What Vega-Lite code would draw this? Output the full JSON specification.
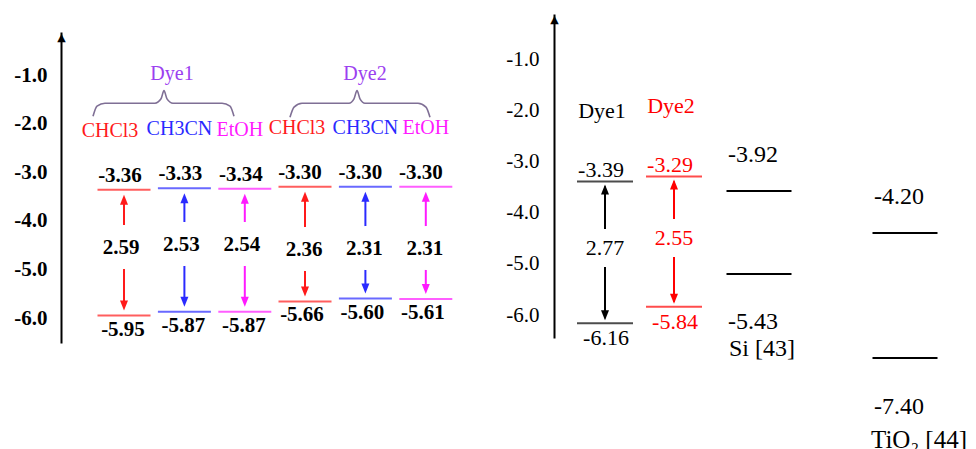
{
"$schema":"https://vega.github.io/schema/vega-lite/v6.json",
"width":976,"height":449,"padding":0,"autosize":{"type":"none"},"background":"#ffffff",
"config":{"view":{"stroke":null},"font":"Liberation Serif","locale":{"number":{"decimal":".","thousands":",","grouping":[3],"currency":["$",""],"minus":"-"}}},
"datasets":{
 "levels":[
  {"dye":"Dye1","solvent":"CHCl3","orbital":"LUMO","energy":-3.36,"gap":2.59},
  {"dye":"Dye1","solvent":"CHCl3","orbital":"HOMO","energy":-5.95,"gap":2.59},
  {"dye":"Dye1","solvent":"CH3CN","orbital":"LUMO","energy":-3.33,"gap":2.53},
  {"dye":"Dye1","solvent":"CH3CN","orbital":"HOMO","energy":-5.87,"gap":2.53},
  {"dye":"Dye1","solvent":"EtOH","orbital":"LUMO","energy":-3.34,"gap":2.54},
  {"dye":"Dye1","solvent":"EtOH","orbital":"HOMO","energy":-5.87,"gap":2.54},
  {"dye":"Dye2","solvent":"CHCl3","orbital":"LUMO","energy":-3.30,"gap":2.36},
  {"dye":"Dye2","solvent":"CHCl3","orbital":"HOMO","energy":-5.66,"gap":2.36},
  {"dye":"Dye2","solvent":"CH3CN","orbital":"LUMO","energy":-3.30,"gap":2.31},
  {"dye":"Dye2","solvent":"CH3CN","orbital":"HOMO","energy":-5.60,"gap":2.31},
  {"dye":"Dye2","solvent":"EtOH","orbital":"LUMO","energy":-3.30,"gap":2.31},
  {"dye":"Dye2","solvent":"EtOH","orbital":"HOMO","energy":-5.61,"gap":2.31}
 ],
 "dyes":[
  {"dye":"Dye1","orbital":"LUMO","energy":-3.39,"gap":2.77},
  {"dye":"Dye1","orbital":"HOMO","energy":-6.16,"gap":2.77},
  {"dye":"Dye2","orbital":"LUMO","energy":-3.29,"gap":2.55},
  {"dye":"Dye2","orbital":"HOMO","energy":-5.84,"gap":2.55}
 ],
 "materials":[
  {"material":"Si","band":"CB","energy":-3.92,"name":"Si [43]"},
  {"material":"Si","band":"VB","energy":-5.43,"name":"Si [43]"},
  {"material":"TiO2","band":"CB","energy":-4.20,"name":"TiO₂ [44]"},
  {"material":"TiO2","band":"VB","energy":-7.40,"name":"TiO₂ [44]"}
 ],
 "braces":[
  {"dye":"Dye1","pos":-0.513,"e":-1.85,"part":"end"},
  {"dye":"Dye1","pos":-0.447,"e":-1.64,"part":"curl"},
  {"dye":"Dye1","pos":-0.315,"e":-1.58,"part":"bar"},
  {"dye":"Dye1","pos":0.513,"e":-1.58,"part":"bar"},
  {"dye":"Dye1","pos":0.613,"e":-1.49,"part":"rise"},
  {"dye":"Dye1","pos":0.662,"e":-1.32,"part":"cusp"},
  {"dye":"Dye1","pos":0.712,"e":-1.49,"part":"rise"},
  {"dye":"Dye1","pos":0.811,"e":-1.58,"part":"bar"},
  {"dye":"Dye1","pos":1.623,"e":-1.58,"part":"bar"},
  {"dye":"Dye1","pos":1.755,"e":-1.64,"part":"curl"},
  {"dye":"Dye1","pos":1.821,"e":-1.85,"part":"end"},
  {"dye":"Dye2","pos":2.748,"e":-1.87,"part":"end"},
  {"dye":"Dye2","pos":2.815,"e":-1.66,"part":"curl"},
  {"dye":"Dye2","pos":2.947,"e":-1.58,"part":"bar"},
  {"dye":"Dye2","pos":3.725,"e":-1.58,"part":"bar"},
  {"dye":"Dye2","pos":3.808,"e":-1.49,"part":"rise"},
  {"dye":"Dye2","pos":3.858,"e":-1.32,"part":"cusp"},
  {"dye":"Dye2","pos":3.907,"e":-1.49,"part":"rise"},
  {"dye":"Dye2","pos":3.990,"e":-1.58,"part":"bar"},
  {"dye":"Dye2","pos":4.868,"e":-1.58,"part":"bar"},
  {"dye":"Dye2","pos":5.0,"e":-1.66,"part":"curl"},
  {"dye":"Dye2","pos":5.066,"e":-1.87,"part":"end"}
 ]
},
"layer":[
 {
  "data":{"name":"levels"},
  "transform":[{"filter":"datum.dye === 'Dye1'"}],
  "encoding":{
   "x":{"field":"solvent","type":"nominal","axis":null,"scale":{"type":"point","padding":0,"domain":["CHCl3","CH3CN","EtOH"],"range":[124,244.8]}},
   "y":{"field":"energy","type":"quantitative","scale":{"domain":[-6.514,-0.115],"range":[343,32],"nice":false,"zero":false},
        "axis":{"values":[-1,-2,-3,-4,-5,-6],"format":".1f","orient":"left","offset":-61,"ticks":false,"grid":false,"domain":true,"domainColor":"#000000","domainWidth":2,"labelFontSize":21,"labelFontWeight":"bold","labelColor":"#000000","labelPadding":14,"title":"▲","titleAngle":0,"titleX":0,"titleY":40,"titleAlign":"center","titleBaseline":"alphabetic","titleFont":"DejaVu Sans","titleFontSize":11,"titleFontWeight":"normal","titleColor":"#000000"}},
   "color":{"field":"solvent","type":"nominal","legend":null,"scale":{"domain":["CHCl3","CH3CN","EtOH"],"range":["#ff1a1a","#2a2aff","#ff1aff"]}}
  },
  "layer":[
   {"mark":{"type":"tick","orient":"horizontal","size":53,"thickness":2}},
   {"mark":{"type":"rule","strokeWidth":2,"yOffset":9,"y2Offset":-9},
    "encoding":{"y":{"aggregate":"max","field":"energy","type":"quantitative"},"y2":{"aggregate":"min","field":"energy"}}},
   {"transform":[{"filter":"datum.orbital === 'LUMO'"}],"mark":{"type":"point","shape":"M0,-1L0.8,1L-0.8,1Z","size":100,"filled":true,"opacity":1,"yOffset":10}},
   {"transform":[{"filter":"datum.orbital === 'HOMO'"}],"mark":{"type":"point","shape":"M0,1L0.8,-1L-0.8,-1Z","size":100,"filled":true,"opacity":1,"yOffset":-10}},
   {"mark":{"type":"text","fontSize":21,"fontWeight":"bold","baseline":"middle","stroke":"#ffffff","strokeWidth":30,"strokeJoin":"round","dx":-3,"dy":-5},
    "encoding":{"y":{"aggregate":"mean","field":"energy","type":"quantitative"},"text":{"field":"gap","type":"quantitative","format":".2f"},"color":{"value":"#ffffff"}}},
   {"mark":{"type":"text","fontSize":21,"fontWeight":"bold","baseline":"middle","dx":-3,"dy":-5},
    "encoding":{"y":{"aggregate":"mean","field":"energy","type":"quantitative"},"text":{"field":"gap","type":"quantitative","format":".2f"},"color":{"value":"#000000"}}},
   {"transform":[{"filter":"datum.orbital === 'LUMO'"}],"mark":{"type":"text","fontSize":21,"fontWeight":"bold","baseline":"middle","dy":-14,"dx":-4},
    "encoding":{"text":{"field":"energy","type":"quantitative","format":".2f"},"color":{"value":"#000000"}}},
   {"transform":[{"filter":"datum.orbital === 'HOMO'"}],"mark":{"type":"text","fontSize":21,"fontWeight":"bold","baseline":"middle","dy":14,"dx":-1},
    "encoding":{"text":{"field":"energy","type":"quantitative","format":".2f"},"color":{"value":"#000000"}}},
   {"transform":[{"filter":"datum.orbital === 'LUMO' && datum.solvent === 'CHCl3'"}],"mark":{"type":"text","fontSize":20,"baseline":"middle","dy":-59,"dx":-14},
    "encoding":{"text":{"field":"solvent","type":"nominal"}}},
   {"transform":[{"filter":"datum.orbital === 'LUMO' && datum.solvent !== 'CHCl3'"}],"mark":{"type":"text","fontSize":20,"baseline":"middle","dy":-59,"dx":-5},
    "encoding":{"text":{"field":"solvent","type":"nominal"}}}
  ]
 },
 {
  "data":{"name":"levels"},
  "transform":[{"filter":"datum.dye === 'Dye2'"}],
  "encoding":{
   "x":{"field":"solvent","type":"nominal","axis":null,"scale":{"type":"point","padding":0,"domain":["CHCl3","CH3CN","EtOH"],"range":[305,425.8]}},
   "y":{"field":"energy","type":"quantitative","axis":null,"scale":{"domain":[-6.514,-0.115],"range":[343,32],"nice":false,"zero":false}},
   "color":{"field":"solvent","type":"nominal","legend":null,"scale":{"domain":["CHCl3","CH3CN","EtOH"],"range":["#ff1a1a","#2a2aff","#ff1aff"]}}
  },
  "layer":[
   {"mark":{"type":"tick","orient":"horizontal","size":53,"thickness":2}},
   {"mark":{"type":"rule","strokeWidth":2,"yOffset":9,"y2Offset":-9},
    "encoding":{"y":{"aggregate":"max","field":"energy","type":"quantitative","axis":null},"y2":{"aggregate":"min","field":"energy"}}},
   {"transform":[{"filter":"datum.orbital === 'LUMO'"}],"mark":{"type":"point","shape":"M0,-1L0.8,1L-0.8,1Z","size":100,"filled":true,"opacity":1,"yOffset":10}},
   {"transform":[{"filter":"datum.orbital === 'HOMO'"}],"mark":{"type":"point","shape":"M0,1L0.8,-1L-0.8,-1Z","size":100,"filled":true,"opacity":1,"yOffset":-10}},
   {"mark":{"type":"text","fontSize":21,"fontWeight":"bold","baseline":"middle","stroke":"#ffffff","strokeWidth":30,"strokeJoin":"round","dx":-1,"dy":6},
    "encoding":{"y":{"aggregate":"mean","field":"energy","type":"quantitative","axis":null},"text":{"field":"gap","type":"quantitative","format":".2f"},"color":{"value":"#ffffff"}}},
   {"mark":{"type":"text","fontSize":21,"fontWeight":"bold","baseline":"middle","dx":-1,"dy":6},
    "encoding":{"y":{"aggregate":"mean","field":"energy","type":"quantitative","axis":null},"text":{"field":"gap","type":"quantitative","format":".2f"},"color":{"value":"#000000"}}},
   {"transform":[{"filter":"datum.orbital === 'LUMO'"}],"mark":{"type":"text","fontSize":21,"fontWeight":"bold","baseline":"middle","dy":-14,"dx":-5},
    "encoding":{"text":{"field":"energy","type":"quantitative","format":".2f"},"color":{"value":"#000000"}}},
   {"transform":[{"filter":"datum.orbital === 'HOMO'"}],"mark":{"type":"text","fontSize":21,"fontWeight":"bold","baseline":"middle","dy":14,"dx":-3},
    "encoding":{"text":{"field":"energy","type":"quantitative","format":".2f"},"color":{"value":"#000000"}}},
   {"transform":[{"filter":"datum.orbital === 'LUMO' && datum.solvent === 'CHCl3'"}],"mark":{"type":"text","fontSize":20,"baseline":"middle","dy":-59,"dx":-8},
    "encoding":{"text":{"field":"solvent","type":"nominal"}}},
   {"transform":[{"filter":"datum.orbital === 'LUMO' && datum.solvent !== 'CHCl3'"}],"mark":{"type":"text","fontSize":20,"baseline":"middle","dy":-59,"dx":0},
    "encoding":{"text":{"field":"solvent","type":"nominal"}}}
  ]
 },
 {
  "data":{"name":"braces"},
  "encoding":{
   "x":{"field":"pos","type":"quantitative","axis":null,"scale":{"domain":[0,5],"range":[124,426],"nice":false,"zero":false}},
   "y":{"field":"e","type":"quantitative","axis":null,"scale":{"domain":[-6.514,-0.115],"range":[343,32],"nice":false,"zero":false}}
  },
  "layer":[
   {"mark":{"type":"line","interpolate":"monotone","color":"#7f6f95","strokeWidth":1.6},"encoding":{"detail":{"field":"dye","type":"nominal"}}},
   {"transform":[{"filter":"datum.part === 'cusp'"}],"mark":{"type":"text","fontSize":20,"baseline":"middle","color":"#9b40f0","dy":-17,"dx":8},"encoding":{"text":{"field":"dye","type":"nominal"}}}
  ]
 },
 {
  "data":{"name":"dyes"},
  "encoding":{
   "x":{"field":"dye","type":"nominal","axis":null,"scale":{"type":"point","padding":0,"domain":["Dye1","Dye2"],"range":[605,674]}},
   "y":{"field":"energy","type":"quantitative","scale":{"domain":[-6.45,-0.11],"range":[338,14],"nice":false,"zero":false},
        "axis":{"values":[-1,-2,-3,-4,-5,-6],"format":".1f","orient":"left","offset":-554,"ticks":false,"grid":false,"domain":true,"domainColor":"#000000","domainWidth":2,"labelFontSize":21,"labelFontWeight":"normal","labelColor":"#000000","labelPadding":15,"title":"▲","titleAngle":0,"titleX":0,"titleY":22,"titleAlign":"center","titleBaseline":"alphabetic","titleFont":"DejaVu Sans","titleFontSize":11,"titleFontWeight":"normal","titleColor":"#000000"}},
   "color":{"field":"dye","type":"nominal","legend":null,"scale":{"domain":["Dye1","Dye2"],"range":["#000000","#ff0000"]}}
  },
  "layer":[
   {"mark":{"type":"tick","orient":"horizontal","size":56,"thickness":2}},
   {"mark":{"type":"rule","strokeWidth":2,"yOffset":5,"y2Offset":-5},
    "encoding":{"y":{"aggregate":"max","field":"energy","type":"quantitative"},"y2":{"aggregate":"min","field":"energy"}}},
   {"transform":[{"filter":"datum.orbital === 'LUMO'"}],"mark":{"type":"point","shape":"M0,-1L0.8,1L-0.8,1Z","size":100,"filled":true,"opacity":1,"yOffset":8}},
   {"transform":[{"filter":"datum.orbital === 'HOMO'"}],"mark":{"type":"point","shape":"M0,1L0.8,-1L-0.8,-1Z","size":100,"filled":true,"opacity":1,"yOffset":-8}},
   {"mark":{"type":"text","fontSize":22,"baseline":"middle","stroke":"#ffffff","strokeWidth":24,"strokeJoin":"round","dy":-4},
    "encoding":{"y":{"aggregate":"mean","field":"energy","type":"quantitative"},"text":{"field":"gap","type":"quantitative","format":".2f"},"color":{"value":"#ffffff"}}},
   {"mark":{"type":"text","fontSize":22,"baseline":"middle","dy":-4},
    "encoding":{"y":{"aggregate":"mean","field":"energy","type":"quantitative"},"text":{"field":"gap","type":"quantitative","format":".2f"}}},
   {"transform":[{"filter":"datum.orbital === 'LUMO'"}],"mark":{"type":"text","fontSize":22,"baseline":"middle","dy":-12,"dx":-4},
    "encoding":{"text":{"field":"energy","type":"quantitative","format":".2f"}}},
   {"transform":[{"filter":"datum.orbital === 'HOMO'"}],"mark":{"type":"text","fontSize":22,"baseline":"middle","dy":15,"dx":1},
    "encoding":{"text":{"field":"energy","type":"quantitative","format":".2f"}}},
   {"transform":[{"filter":"datum.orbital === 'LUMO'"}],"mark":{"type":"text","fontSize":22,"baseline":"middle","dy":-71,"dx":-3},
    "encoding":{"text":{"field":"dye","type":"nominal"}}}
  ]
 },
 {
  "data":{"name":"materials"},
  "transform":[{"filter":"datum.material === 'Si'"}],
  "encoding":{
   "x":{"field":"material","type":"nominal","axis":null,"scale":{"type":"point","padding":0,"domain":["Si"],"range":[709,809]}},
   "y":{"field":"energy","type":"quantitative","axis":null,"scale":{"domain":[-5.43,-3.92],"range":[274,191],"nice":false,"zero":false}}
  },
  "layer":[
   {"mark":{"type":"tick","orient":"horizontal","size":65,"thickness":2,"color":"#000000","opacity":1}},
   {"transform":[{"filter":"datum.band === 'CB'"}],"mark":{"type":"text","fontSize":24,"baseline":"middle","dy":-36,"dx":-6,"color":"#000000"},"encoding":{"text":{"field":"energy","type":"quantitative","format":".2f"}}},
   {"transform":[{"filter":"datum.band === 'VB'"}],"mark":{"type":"text","fontSize":24,"baseline":"middle","dy":48,"dx":-6,"color":"#000000"},"encoding":{"text":{"field":"energy","type":"quantitative","format":".2f"}}},
   {"transform":[{"filter":"datum.band === 'VB'"}],"mark":{"type":"text","fontSize":24,"baseline":"middle","dy":75,"dx":3,"color":"#000000"},"encoding":{"text":{"field":"name","type":"nominal"}}}
  ]
 },
 {
  "data":{"name":"materials"},
  "transform":[{"filter":"datum.material === 'TiO2'"}],
  "encoding":{
   "x":{"field":"material","type":"nominal","axis":null,"scale":{"type":"point","padding":0,"domain":["TiO2"],"range":[855,955]}},
   "y":{"field":"energy","type":"quantitative","axis":null,"scale":{"domain":[-7.40,-4.20],"range":[358,233],"nice":false,"zero":false}}
  },
  "layer":[
   {"mark":{"type":"tick","orient":"horizontal","size":65,"thickness":2,"color":"#000000","opacity":1}},
   {"transform":[{"filter":"datum.band === 'CB'"}],"mark":{"type":"text","fontSize":24,"baseline":"middle","dy":-36,"dx":-6,"color":"#000000"},"encoding":{"text":{"field":"energy","type":"quantitative","format":".2f"}}},
   {"transform":[{"filter":"datum.band === 'VB'"}],"mark":{"type":"text","fontSize":24,"baseline":"middle","dy":49,"dx":-6,"color":"#000000"},"encoding":{"text":{"field":"energy","type":"quantitative","format":".2f"}}},
   {"transform":[{"filter":"datum.band === 'VB'"}],"mark":{"type":"text","fontSize":25,"baseline":"middle","align":"left","dy":82,"dx":-34,"color":"#000000"},"encoding":{"text":{"field":"name","type":"nominal"}}}
  ]
 }
],
"resolve":{"scale":{"x":"independent","y":"independent","color":"independent"}}
}
